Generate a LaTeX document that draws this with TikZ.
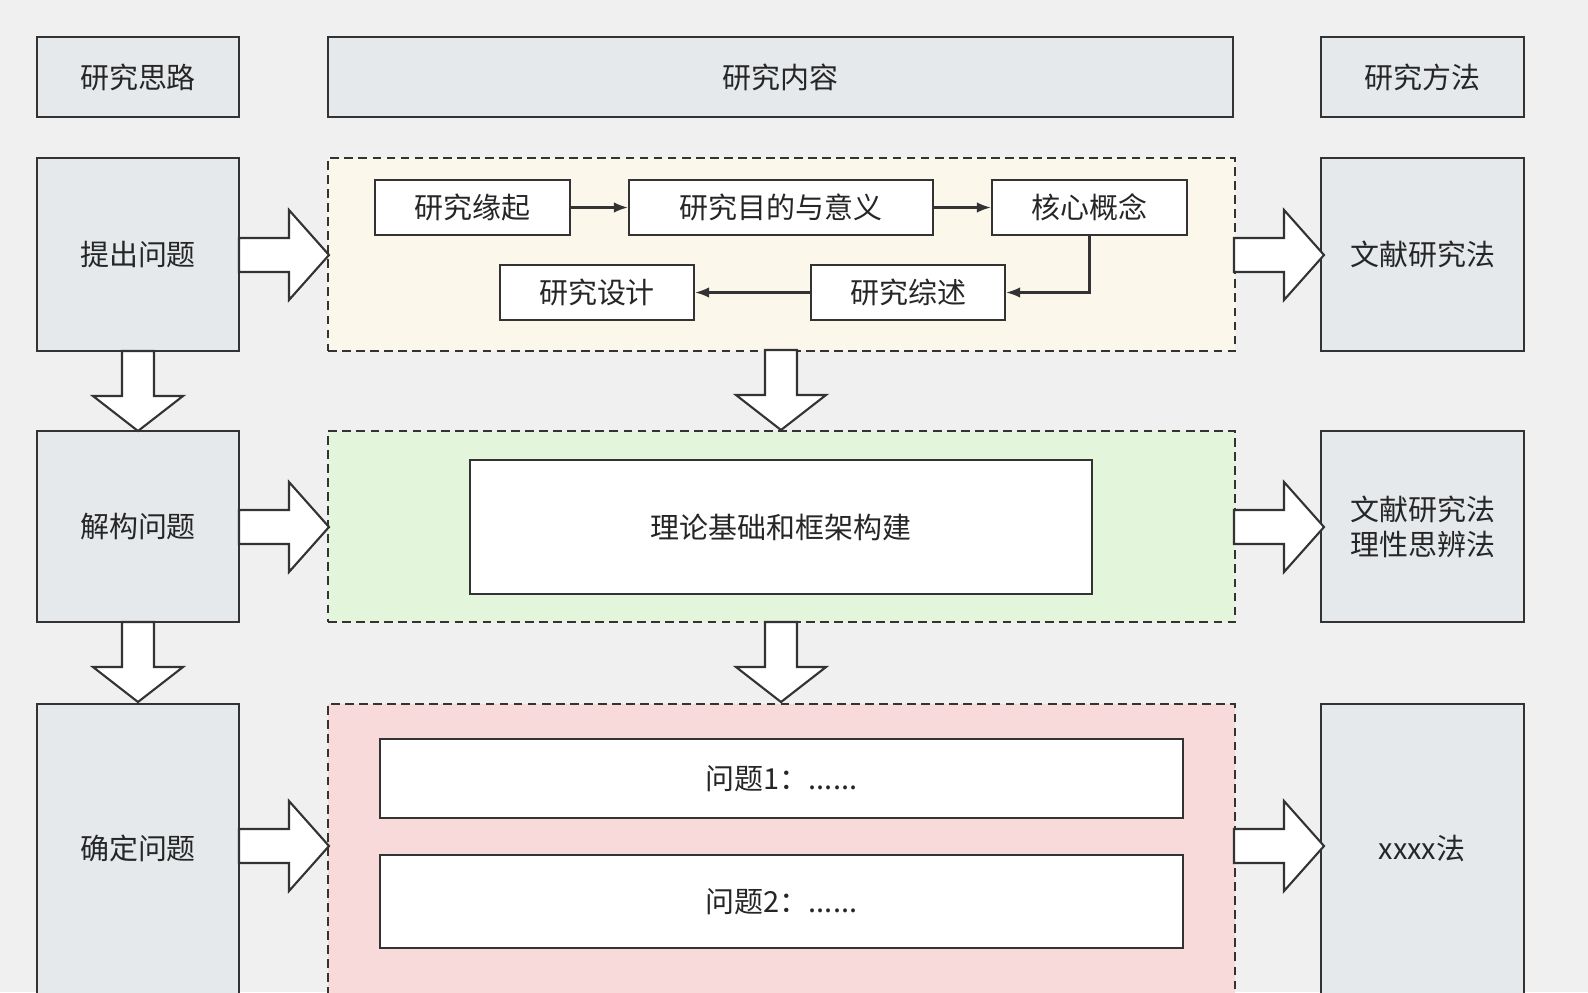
\documentclass[tikz,border=0pt]{standalone}
\usepackage{fontspec}
\setmainfont{Noto Sans CJK SC}
\usetikzlibrary{arrows.meta, calc, positioning}
\definecolor{bgray}{HTML}{F0F0F0}
\definecolor{boxgray}{HTML}{E6E9EC}
\definecolor{edgedark}{HTML}{333333}
\definecolor{fillyel}{HTML}{FBF8EB}
\definecolor{fillgrn}{HTML}{E3F5DA}
\definecolor{fillred}{HTML}{F9DADA}
\tikzset{
  base/.style={draw=edgedark, line width=1.2pt, inner sep=0pt, align=center,
    font=\fontsize{16.5}{20}\selectfont, text=black!85},
  head/.style={base, fill=boxgray},
  panel/.style={base, dash pattern=on 5pt off 3pt},
  item/.style={base, fill=white},
  bigarrow/.style={draw=edgedark, line width=1.2pt, fill=white, line join=miter},
  link/.style={draw=edgedark, line width=1.2pt, -{Latex[length=8pt,width=6pt]}},
  pics/rarrow/.style={code={\draw[bigarrow] (0,-17) -- (50,-17) -- (50,-45) -- (90,0) -- (50,45) -- (50,17) -- (0,17) -- cycle;}},
  pics/darrow/.style={code={\draw[bigarrow] (-16,0) -- (-16,45) -- (-45,45) -- (0,80) -- (45,45) -- (16,45) -- (16,0) -- cycle;}}
}
% box from pixel corners
\newcommand{\bx}[7]{%
  \pgfmathsetmacro{\bw}{(#4-#2)*0.02}\pgfmathsetmacro{\bh}{(#5-#3)*0.02}%
  \node[#6, minimum width=\bw cm, minimum height=\bh cm] (#1) at ({(#2+#4)/2},{(#3+#5)/2}) {#7};}
\begin{document}
\begin{tikzpicture}[x=0.02cm, y=-0.02cm]
\useasboundingbox (0,0) rectangle (1588,992);
\clip (0,0) rectangle (1588,992);
\fill[bgray] (0,0) rectangle (1588,992);
% headers
\bx{hthink}{37}{37}{239}{117}{head}{研究思路}
\bx{hcont}{328}{37}{1233}{117}{head}{研究内容}
\bx{hmeth}{1321}{37}{1524}{117}{head}{研究方法}
% left column
\bx{ask}{37}{158}{239}{351}{head}{提出问题}
\bx{split}{37}{431}{239}{622}{head}{解构问题}
\bx{fix}{37}{704}{239}{1010}{head}{}
\node[base, draw=none] at (138,848) {确定问题};
% panels
\bx{pyel}{328}{158}{1235}{351}{panel, fill=fillyel}{}
\bx{pgrn}{328}{431}{1235}{622}{panel, fill=fillgrn}{}
\bx{pred}{328}{704}{1235}{1010}{panel, fill=fillred}{}
% right column
\bx{m1}{1321}{158}{1524}{351}{head}{文献研究法}
\bx{m2}{1321}{431}{1524}{622}{head}{文献研究法\\理性思辨法}
\bx{m3}{1321}{704}{1524}{1010}{head}{}
\node[base, draw=none] at (1422,848) {xxxx法};
% yellow panel items
\bx{origin}{375}{180}{570}{235}{item}{研究缘起}
\bx{aim}{629}{180}{933}{235}{item}{研究目的与意义}
\bx{core}{992}{180}{1187}{235}{item}{核心概念}
\bx{design}{500}{265}{694}{320}{item}{研究设计}
\bx{review}{811}{265}{1005}{320}{item}{研究综述}
\draw[link] (origin) -- (aim);
\draw[link] (aim) -- (core);
\draw[link] (core.south) |- (review.east);
\draw[link] (review) -- (design);
% green and red items
\bx{theory}{470}{460}{1092}{594}{item}{理论基础和框架构建}
\bx{q1}{380}{739}{1183}{818}{item}{问题1：......}
\bx{q2}{380}{855}{1183}{948}{item}{问题2：......}
% block arrows
\foreach \yc in {255,527,846} {
  \pic at (239,\yc) {rarrow};
  \pic at (1234,\yc) {rarrow};
}
\pic at (138,351) {darrow};
\pic at (138,622) {darrow};
\pic at (781,350) {darrow};
\pic at (781,622) {darrow};
\end{tikzpicture}
\end{document}
